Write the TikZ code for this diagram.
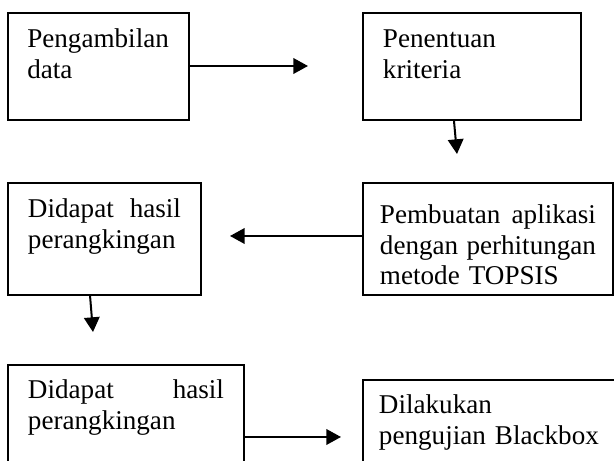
\documentclass[tikz,border=0pt]{standalone}
\usepackage{fontspec}
\setmainfont{Liberation Serif}
\usetikzlibrary{arrows.meta}

\begin{document}
\begin{tikzpicture}[x=0.45pt, y=-0.45pt,
  box/.style={draw, line width=0.9pt, anchor=north west, align=left,
    font=\fontsize{12.2}{13.7}\selectfont, inner ysep=0pt, inner xsep=9pt,
    text height=15.75pt},
  arr/.style={line width=0.9pt, -{Triangle[length=6.6pt, width=7pt]}}]
  \useasboundingbox (0,0) rectangle (614,461);
  \clip (0,0) rectangle (614,461);
  % langkah-langkah
  \node[box, inner xsep=8.7pt, text width=64pt, text depth=32.4pt] (ambil) at (7,12) {Pengambilan\\data};
  \node[box, text width=80.1pt, text depth=32.4pt] (kriteria) at (362,12) {Penentuan\\kriteria};
  \node[box, inner xsep=7.65pt, text width=97.2pt, text height=18.45pt, text depth=31.95pt]
    (topsis) at (362,182) {Pembuatan\hfill aplikasi\\dengan\hfill perhitungan\\metode TOPSIS};
  \node[box, text width=68.85pt, text depth=34.65pt] (hasil) at (7,182) {Didapat\hfill hasil\\perangkingan};
  \node[box, text width=88.2pt, text height=15.3pt, text depth=45pt] (hasilb) at (7,364) {Didapat\hfill hasil\\perangkingan};
  \node[box, inner xsep=7.2pt, text width=117pt, text height=15.3pt, text depth=45pt] (uji) at (362,379) {Dilakukan\\pengujian Blackbox};
  % panah
  \coordinate (t1) at (308,66);
  \coordinate (t2) at (457,154);
  \coordinate (t3) at (230,236);
  \coordinate (t4) at (93,332);
  \coordinate (t5) at (341,437);
  \draw[arr] (ambil.east |- t1) -- (t1);
  \draw[arr] ([xshift=-8.1pt]kriteria.south) -- (t2);
  \draw[arr] (topsis.west |- t3) -- (t3);
  \draw[arr] ([xshift=-6.5pt]hasil.south) -- (t4);
  \draw[arr] (hasilb.east |- t5) -- (t5);
\end{tikzpicture}
\end{document}
